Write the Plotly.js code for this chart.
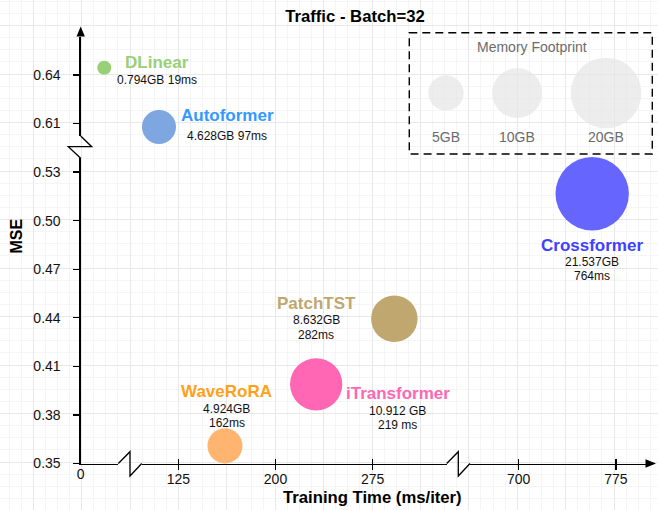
<!DOCTYPE html>
<html><head><meta charset="utf-8">
<script src="https://cdn.plot.ly/plotly-3.0.1.min.js"></script>
<style>html,body{margin:0;padding:0;background:#fff}#chart{width:658px;height:510px}</style>
</head><body><div id="chart"></div>
<script>
// ---------------- data ----------------
const models = ['DLinear','Autoformer','WaveRoRA','iTransformer','PatchTST','Crossformer'];
const trainTimeDrawn = [18.2, 110.1, 161.0, 231.4, 291.7, 756.7];   // ms/iter as placed on the broken axis
const mse = [0.6445, 0.6077, 0.3609, 0.3989, 0.4394, 0.5166];
const memoryGB = [0.794, 4.628, 4.924, 10.912, 8.632, 21.537];
const infoLabels = ['0.794GB 19ms','4.628GB 97ms','4.924GB<br>162ms','10.912 GB<br>219 ms','8.632GB<br>282ms','21.537GB<br>764ms'];
const legendGB = [5, 10, 20];
const legendLabels = ['5GB','10GB','20GB'];
const xTicksSeg1 = [0];
const xTicksSeg2 = [125, 200, 275];
const xTicksSeg3 = [700, 775];
const yTicksLow = [0.35, 0.38, 0.41, 0.44, 0.47, 0.50, 0.53];
const yTicksUp = [0.61, 0.64];

// ---------------- styles / layout geometry (pixels) ----------------
const W = 658, H = 510;
const FONT = 'Liberation Sans, Arial, sans-serif';
const px = v => v / W, py = v => 1 - v / H;
const SX = 1.296;            // px per ms
const SYL = 1619, SYU = 1610; // px per MSE unit
const AX_X = 80.7;
const SR = 0.008;
const bubbleColors = {DLinear:'#97D077', Autoformer:'#7EA6E0', WaveRoRA:'#FFB570', iTransformer:'#FF66B3', PatchTST:'#BFA76F', Crossformer:'#6666FF'};
const nameColors = {DLinear:'#97D077', Autoformer:'#3399FF', WaveRoRA:'#FFA11A', iTransformer:'#FF66B3', PatchTST:'#BFA76F', Crossformer:'#4040FF'};
// [nameDx, nameDy, infoDx, infoDy(first line)] in px, dy downward
const labelPos = {
  DLinear:[52.7,-5.7,52.7,12.3],
  Autoformer:[68.5,-11,68,8.6],
  WaveRoRA:[2,-54.3,2,-37],
  iTransformer:[82.1,8.8,81.8,26.2],
  PatchTST:[-77.6,-15,-78,1.7],
  Crossformer:[0.2,51.3,0,68]
};

const seg1 = {p0:AX_X, p1:118.3, ref:0, refPx:AX_X};
const seg2 = {p0:141.7, p1:446.7, ref:125, refPx:178.3};
const seg3 = {p0:470, p1:646, ref:700, refPx:518.7};
const segRange = s => [s.ref + (s.p0 - s.refPx)/SX, s.ref + (s.p1 - s.refPx)/SX];
const yLow = {p0:463.5, p1:158.3};
const yUp = {p0:136, p1:36.5};
const yLowRange = [0.35, 0.35 + (yLow.p0 - yLow.p1)/SYL];
const yUpRange = [0.64 - (yUp.p0 - 75)/SYU, 0.64 + (75 - yUp.p1)/SYU];

const xSeg = t => t < 60 ? 'x2' : (t < 500 ? 'x3' : 'x4');
const ySeg = m => m > 0.57 ? 'y3' : 'y2';

const baseAxis = {
  showline:true, linecolor:'#000', linewidth:1.3, zeroline:false, showgrid:false,
  tickfont:{family:FONT, size:14, color:'#111'}, ticks:'outside', tickcolor:'#000', tickwidth:1.2,
  tickmode:'array', fixedrange:true
};
const xAx = (s, vals, extra) => Object.assign({}, baseAxis, {
  domain:[px(s.p0), px(s.p1)], range:segRange(s), anchor:'y2',
  tickvals:vals, ticktext:vals.map(String), ticklen:5, ticklabelstandoff:-3
}, extra || {});
const yAx = (dom, rng, vals) => Object.assign({}, baseAxis, {
  domain:[py(dom.p0), py(dom.p1)], range:rng, anchor:'x2',
  tickvals:vals, ticktext:vals.map(v => v.toFixed(2)), ticklen:6, ticklabelstandoff:10
});
const insideTicks = (over, s, vals) => ({
  overlaying:over, anchor:'y2', range:segRange(s), tickmode:'array', tickvals:vals,
  ticks:'inside', ticklen:5, tickwidth:1.2, tickcolor:'#000', showticklabels:false,
  showline:false, zeroline:false, showgrid:false, fixedrange:true
});

// ---------------- traces ----------------
const traces = [];
const annotations = [];
models.forEach((m, i) => {
  const xa = xSeg(trainTimeDrawn[i]), ya = ySeg(mse[i]);
  traces.push({
    type:'scatter', mode:'markers', x:[trainTimeDrawn[i]], y:[mse[i]], xaxis:xa, yaxis:ya,
    marker:{size:[memoryGB[i]], sizemode:'area', sizeref:SR, color:bubbleColors[m], line:{width:0}, opacity:1},
    cliponaxis:false, hoverinfo:'skip', showlegend:false
  });
  const p = labelPos[m];
  annotations.push({
    xref:xa, yref:ya, x:trainTimeDrawn[i], y:mse[i], xshift:p[0], yshift:-p[1],
    text:'<b>' + m + '</b>', showarrow:false, xanchor:'center', yanchor:'middle',
    font:{family:FONT, size:17, color:nameColors[m]}
  });
  infoLabels[i].split('<br>').forEach((line, k) => {
    annotations.push({
      xref:xa, yref:ya, x:trainTimeDrawn[i], y:mse[i], xshift:p[2], yshift:-(p[3] + k*14.5),
      text:line, showarrow:false, xanchor:'center', yanchor:'middle',
      font:{family:FONT, size:12, color:'#111'}
    });
  });
});
// empty traces for tick overlay axes
traces.push({type:'scatter', x:[], y:[], xaxis:'x5', yaxis:'y2', hoverinfo:'skip', showlegend:false});
traces.push({type:'scatter', x:[], y:[], xaxis:'x6', yaxis:'y2', hoverinfo:'skip', showlegend:false});

// legend bubbles (grid axes are in pixel units)
const diam = v => Math.sqrt(2 * v / SR);
const GAP = 28.5, LEG_Y = 93, LEG_X0 = 446;
const legX = [];
legendGB.forEach((v, i) => {
  legX.push(i === 0 ? LEG_X0 : legX[i-1] + diam(legendGB[i-1])/2 + GAP + diam(v)/2);
});
traces.push({
  type:'scatter', mode:'markers', x:legX, y:legendGB.map(() => LEG_Y), xaxis:'x', yaxis:'y',
  marker:{size:legendGB, sizemode:'area', sizeref:SR, color:'#E6E6E6', line:{width:0}},
  cliponaxis:false, hoverinfo:'skip', showlegend:false
});
legendLabels.forEach((t, i) => annotations.push({
  xref:'x', yref:'y', x:legX[i], y:137, text:t, showarrow:false, xanchor:'center', yanchor:'middle',
  font:{family:FONT, size:14, color:'#6B6B6B'}
}));
annotations.push({xref:'x', yref:'y', x:531.7, y:46.7, text:'Memory Footprint', showarrow:false,
  xanchor:'center', yanchor:'middle', font:{family:FONT, size:14, color:'#6B6B6B'}});
// axis titles
annotations.push({xref:'paper', yref:'paper', x:px(372.7), y:py(497), text:'<b>Training Time (ms/iter)</b>',
  showarrow:false, xanchor:'center', yanchor:'middle', font:{family:FONT, size:16.7, color:'#000'}});
annotations.push({xref:'paper', yref:'paper', x:px(16.7), y:py(235.8), text:'<b>MSE</b>', textangle:-90,
  showarrow:false, xanchor:'center', yanchor:'middle', font:{family:FONT, size:16, color:'#000'}});

// decorative shapes (pixel units on grid axes)
const lineS = {color:'#000', width:1.3};
const shapes = [
  {type:'path', xref:'x', yref:'y', path:'M118.3,463.5 L130,451.7 L130,476 L141.7,463.5', line:lineS},
  {type:'path', xref:'x', yref:'y', path:'M446.7,463.5 L458.3,451.7 L458.3,476 L470,463.5', line:lineS},
  {type:'path', xref:'x', yref:'y', path:'M80.7,136 L91.7,146.7 L68.3,146.7 L80.7,158.3', line:lineS},
  {type:'path', xref:'x', yref:'y', path:'M76.5,36.5 L84.9,36.5 L80.7,26.5 Z', fillcolor:'#000', line:{width:0}},
  {type:'path', xref:'x', yref:'y', path:'M645.5,459.3 L645.5,467.7 L656,463.5 Z', fillcolor:'#000', line:{width:0}},
  {type:'rect', xref:'x', yref:'y', x0:409.3, x1:652.3, y0:32.7, y1:154, line:{color:'#000', width:1.4, dash:'8px,5px'}}
];

const layout = {
  width:W, height:H, margin:{l:0, r:0, t:0, b:0},
  paper_bgcolor:'#fff', plot_bgcolor:'rgba(0,0,0,0)',
  font:{family:FONT, color:'#000'},
  showlegend:false,
  title:{text:'<b>Traffic - Batch=32</b>', font:{family:FONT, size:16.7, color:'#000'},
    x:px(355), xanchor:'center', y:py(16), yanchor:'middle', xref:'paper', yref:'paper'},
  // background grid, pixel units
  xaxis:{domain:[0,1], range:[0,W], anchor:'y', tickmode:'linear', tick0:33.2, dtick:48.4,
    showgrid:true, gridcolor:'#E8E8E8', gridwidth:1,
    minor:{tickmode:'linear', tick0:33.2, dtick:12.1, showgrid:true, gridcolor:'#F5F5F5', gridwidth:1, ticks:''},
    showticklabels:false, ticks:'', showline:false, zeroline:false, fixedrange:true},
  yaxis:{domain:[0,1], range:[H,0], anchor:'x', tickmode:'linear', tick0:25.5, dtick:48.5,
    showgrid:true, gridcolor:'#E8E8E8', gridwidth:1,
    minor:{tickmode:'linear', tick0:25.5, dtick:12.125, showgrid:true, gridcolor:'#F5F5F5', gridwidth:1, ticks:''},
    showticklabels:false, ticks:'', showline:false, zeroline:false, fixedrange:true},
  xaxis2: xAx(seg1, xTicksSeg1, {ticks:''}),
  xaxis3: xAx(seg2, xTicksSeg2),
  xaxis4: xAx(seg3, xTicksSeg3),
  xaxis5: insideTicks('x3', seg2, xTicksSeg2),
  xaxis6: insideTicks('x4', seg3, xTicksSeg3),
  yaxis2: yAx(yLow, yLowRange, yTicksLow),
  yaxis3: yAx(yUp, yUpRange, yTicksUp),
  annotations: annotations,
  shapes: shapes
};

Plotly.newPlot('chart', traces, layout, {staticPlot:true, displayModeBar:false});
</script>
</body></html>
